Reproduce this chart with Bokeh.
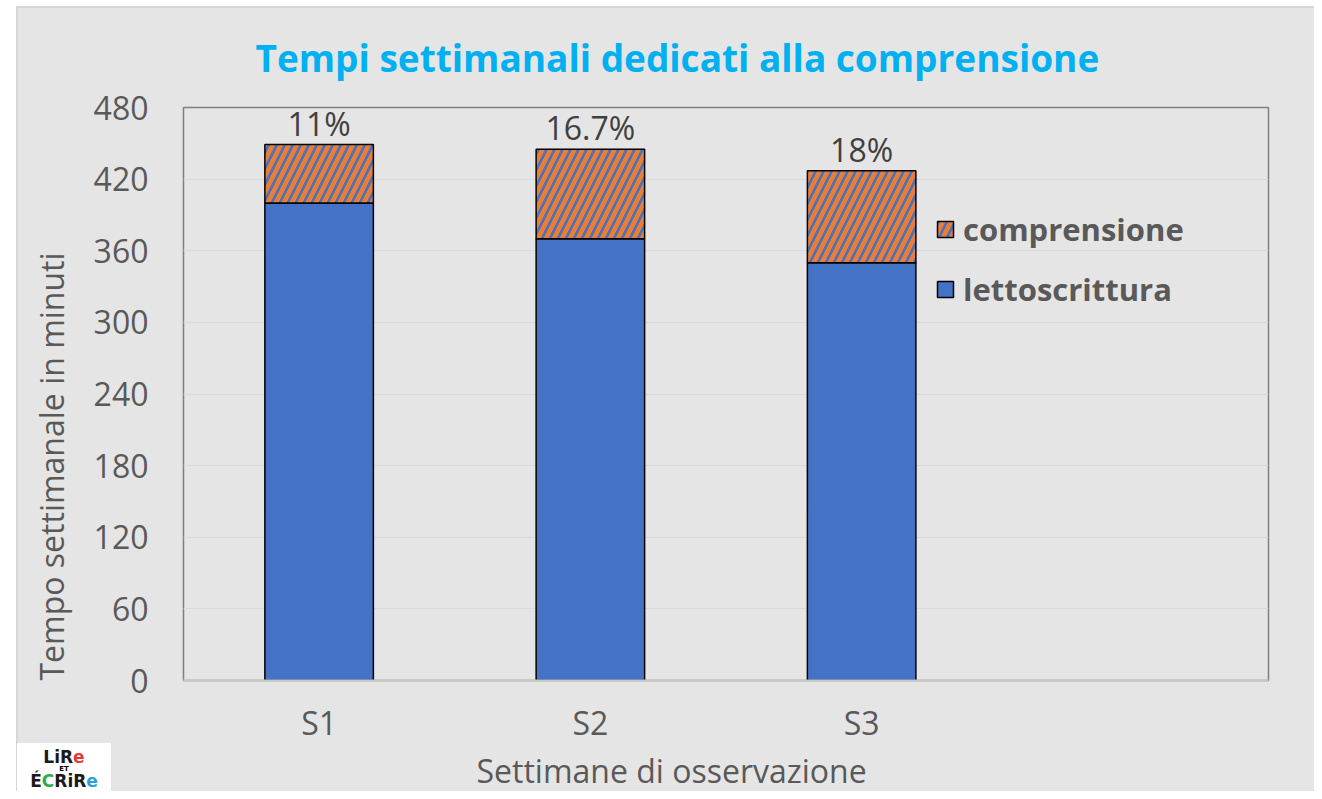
from bokeh.plotting import figure
from bokeh.models import (Range1d, FixedTicker, Legend, LegendItem,
                          ColumnDataSource, Title)
from bokeh.models import dom
from bokeh.embed import file_html
from bokeh.resources import INLINE
from bokeh.core.properties import value

# ---- data ----
categories = ["S1", "S2", "S3"]
lettoscrittura = [400, 370, 350]
comprensione = [49, 75, 77]
pct_labels = ["11%", "16.7%", "18%"]
y_ticks = [0, 60, 120, 180, 240, 300, 360, 420, 480]
series_names = ["lettoscrittura", "comprensione"]

positions = list(range(1, len(categories) + 1))
totals = [a + b for a, b in zip(lettoscrittura, comprensione)]

source = ColumnDataSource(dict(x=positions, lettoscrittura=lettoscrittura,
                               comprensione=comprensione, total=totals,
                               pct=pct_labels))

BG = "#E5E5E5"
TXT = "#595959"
FONT = "Open Sans"

W, H = 1314, 791
p = figure(width=W, height=H, output_backend="svg", toolbar_location=None,
           x_range=Range1d(0.5, 4.5), y_range=Range1d(0, 480),
           min_border_left=183, min_border_right=46,
           min_border_top=107, min_border_bottom=108)
p.background_fill_color = BG
p.border_fill_color = BG
p.outline_line_color = "#808080"
p.outline_line_width = 1.5

p.add_layout(Title(text="Tempi settimanali dedicati alla comprensione", align="left",
                   offset=72, standoff=50, text_font=FONT, text_font_size="37px",
                   text_font_style="bold", text_color="#00B0F0"), "above")

rs = p.vbar_stack(series_names, x="x", width=0.4, source=source,
                  fill_color=["#4472C4", "#ED7D31"], line_color="black",
                  line_width=1.5, hatch_pattern=[" ", "/"],
                  hatch_color="#4472C4", hatch_scale=16, hatch_weight=2.6)

p.text(x="x", y="total", text="pct", source=source, text_align="center",
       text_baseline="bottom", text_font=value(FONT),
       text_font_size="32px", text_color="#404040")

# axes
p.xaxis.ticker = FixedTicker(ticks=positions)
p.xaxis.major_label_overrides = {pos: c for pos, c in zip(positions, categories)}
p.yaxis.ticker = FixedTicker(ticks=y_ticks)
for ax in (p.xaxis, p.yaxis):
    ax.major_tick_line_color = None
    ax.minor_tick_line_color = None
    ax.major_tick_out = 0
    ax.major_tick_in = 0
    ax.minor_tick_out = 0
    ax.major_label_text_font = FONT
    ax.major_label_text_font_size = "32px"
    ax.major_label_text_color = TXT
p.yaxis.axis_line_color = None
p.xaxis.axis_line_color = "#C8C8C8"
p.xaxis.axis_line_width = 2
p.yaxis.major_label_standoff = 35
p.xaxis.major_label_standoff = 20
p.xgrid.grid_line_color = None
p.ygrid.ticker = FixedTicker(ticks=y_ticks)
p.ygrid.grid_line_color = "#D9D9D9"
p.ygrid.grid_line_width = 1.2

# axis titles (as Titles, so they can be placed off-centre like the original)
p.add_layout(Title(text="Tempo settimanale in minuti", align="left", offset=0,
                   standoff=36, text_font=FONT, text_font_size="32px",
                   text_font_style="normal", text_color=TXT), "left")
p.add_layout(Title(text="Settimane di osservazione", align="left", offset=293,
                   standoff=0, text_font=FONT, text_font_size="32px",
                   text_font_style="normal", text_color=TXT), "below")

# legend
legend = Legend(items=[LegendItem(label=series_names[1], renderers=[rs[1]]),
                       LegendItem(label=series_names[0], renderers=[rs[0]])],
                location=(752, 370), orientation="vertical",
                glyph_width=20, glyph_height=20, label_standoff=8,
                spacing=18, padding=0, margin=0,
                label_text_font=FONT, label_text_font_size="31px",
                label_text_font_style="bold", label_text_color=TXT,
                background_fill_alpha=0, border_line_color=None)
p.add_layout(legend)

# page edge: white strips + light frame like the original picture
edge_left = dom.Div(style={"position": "absolute", "left": "0px", "top": "0px",
                           "width": "16px", "height": "791px",
                           "background-color": "white", "z-index": "10"})
edge_top = dom.Div(style={"position": "absolute", "left": "0px", "top": "0px",
                          "width": "1314px", "height": "6px",
                          "background-color": "white", "z-index": "10"})
edge_line = dom.Div(style={"position": "absolute", "left": "16px", "top": "6px",
                           "width": "1298px", "height": "785px",
                           "border-left": "2px solid #D6D6D6",
                           "border-top": "2px solid #D6D6D6",
                           "box-sizing": "border-box", "pointer-events": "none",
                           "z-index": "10"})

# small logo in the bottom-left corner
def letter(ch, color):
    return dom.Span(children=[ch], style={"color": color})

logo = dom.Div(
    style={"position": "absolute", "left": "17px", "top": "743px", "width": "94px",
           "height": "48px", "background-color": "white", "font-family": "DejaVu Sans",
           "font-weight": "bold", "text-align": "center", "line-height": "1",
           "font-size": "17px", "padding-top": "6px", "box-sizing": "border-box",
           "z-index": "11"},
    children=[
        dom.Div(children=[letter("L", "#1a1a1a"), letter("i", "#1a1a1a"),
                          letter("R", "#1a1a1a"), letter("e", "#E53935")]),
        dom.Div(children=["ET"], style={"font-size": "7px", "line-height": "1"}),
        dom.Div(children=[letter("É", "#1a1a1a"), letter("C", "#2EAA4A"),
                          letter("R", "#1a1a1a"), letter("i", "#1a1a1a"),
                          letter("R", "#1a1a1a"), letter("e", "#2A9FD8")]),
    ])
p.elements = [edge_left, edge_top, edge_line, logo]

open("out.html", "w").write(file_html(p, INLINE))
